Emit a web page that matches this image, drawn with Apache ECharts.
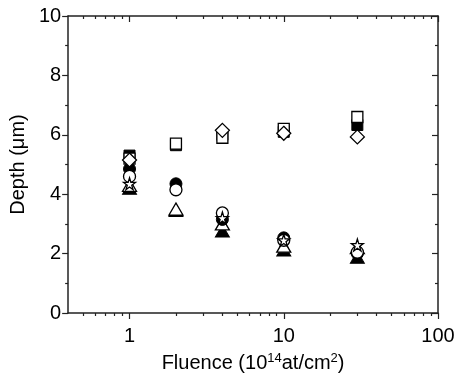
<!DOCTYPE html>
<html>
<head>
<meta charset="utf-8">
<script src="https://cdn.jsdelivr.net/npm/echarts@6/dist/echarts.min.js"></script>
<style>
  html, body { margin: 0; padding: 0; background: #fff; }
  #chart { width: 458px; height: 381px; }
</style>
</head>
<body>
<div id="chart"></div>
<script>
// fluence values (10^14 at/cm^2)
const fluence = [1, 2, 4, 10, 30];

// depth (um) per marker type, null = no point
const squareOpen   = [5.2, 5.7, 5.9, 6.2, 6.6];
const squareFilled = [5.3, 5.65, 6.0, 6.1, 6.33];
const diamondOpen  = [5.15, null, 6.15, 6.05, 5.93];
const circleFilled = [4.85, 4.35, 3.15, 2.53, 2.0];
const circleOpen   = [4.6, 4.15, 3.37, 2.45, 2.05];
const starOpen     = [4.35, null, 3.2, 2.45, 2.29];
const triOpen      = [4.3, 3.5, 3.0, 2.25, 2.2];
const triFilled    = [4.2, 3.45, 2.76, 2.12, 1.88];

const xMajor = [1, 10, 100];
const xMinor = [0.5, 0.6, 0.7, 0.8, 0.9, 2, 3, 4, 5, 6, 7, 8, 9, 20, 30, 40, 50, 60, 70, 80, 90];

const FONT = "'Liberation Sans', Arial, sans-serif";
const STAR = "path://M50,0 L61,35 L98,35 L68,57 L79,91 L50,70 L21,91 L32,57 L2,35 L39,35 Z";

const pairs = (ys) => fluence.map((x, i) => (ys[i] == null ? null : [x, ys[i]])).filter(Boolean);

const openStyle = { color: "#fff", borderColor: "#000", borderWidth: 1.3, opacity: 1 };
const fillStyle = { color: "#000", borderColor: "#000", borderWidth: 1, opacity: 1 };

const mk = (name, ys, symbol, size, filled) => ({
  type: "scatter",
  name,
  data: pairs(ys),
  symbol,
  symbolSize: size,
  itemStyle: filled ? fillStyle : openStyle,
  emphasis: { disabled: true },
  xAxisIndex: 0,
  yAxisIndex: 0,
});

const axisLine = { show: true, lineStyle: { color: "#222", width: 1.5 } };
const tickLine = { color: "#222", width: 1.2 };

const logAxis = (extra) => Object.assign({
  type: "log",
  logBase: 10,
  min: 0.4,
  max: 100,
  splitLine: { show: false },
  axisLine: axisLine,
}, extra);

const chart = echarts.init(document.getElementById("chart"), null, { renderer: "canvas" });

chart.setOption({
  animation: false,
  backgroundColor: "#fff",
  grid: { left: 67, right: 20, top: 16, bottom: 68 },
  xAxis: [
    logAxis({
      position: "bottom",
      axisTick: { show: true, inside: false, length: 6, lineStyle: tickLine, customValues: xMajor },
      axisLabel: { show: true, customValues: xMajor, color: "#000", fontSize: 20, fontFamily: FONT, margin: 13 },
      name: "{n|Fluence (10}{s|14}{n|at/cm}{s|2}{n|)}",
      nameLocation: "middle",
      nameGap: 39,
      nameTextStyle: {
        rich: {
          n: { fontSize: 20, fontFamily: FONT, color: "#000" },
          s: { fontSize: 13, fontFamily: FONT, color: "#000", padding: [0, 0, 9, 0] },
        },
      },
    }),
    logAxis({
      position: "bottom",
      axisLine: { show: false },
      axisTick: { show: true, inside: false, length: 3, lineStyle: tickLine, customValues: xMinor },
      axisLabel: { show: false },
    }),
    logAxis({
      position: "top",
      axisTick: { show: true, inside: true, length: 6, lineStyle: tickLine, customValues: xMajor },
      axisLabel: { show: false },
    }),
    logAxis({
      position: "top",
      axisLine: { show: false },
      axisTick: { show: true, inside: true, length: 3, lineStyle: tickLine, customValues: xMinor },
      axisLabel: { show: false },
    }),
  ],
  yAxis: [
    {
      type: "value",
      position: "left",
      min: 0,
      max: 10,
      interval: 2,
      splitLine: { show: false },
      axisLine: axisLine,
      axisTick: { show: true, inside: false, length: 6, lineStyle: tickLine },
      minorTick: { show: true, splitNumber: 2, length: 3, lineStyle: tickLine },
      axisLabel: { color: "#000", fontSize: 20, fontFamily: FONT, margin: 7 },
      name: "Depth (\u03bcm)",
      nameLocation: "middle",
      nameGap: 37,
      nameTextStyle: { fontSize: 20, fontFamily: FONT, color: "#000" },
    },
    {
      type: "value",
      position: "right",
      min: 0,
      max: 10,
      interval: 2,
      splitLine: { show: false },
      axisLine: axisLine,
      axisTick: { show: true, inside: true, length: 6, lineStyle: tickLine },
      minorTick: { show: true, splitNumber: 2, length: 3, lineStyle: tickLine },
      axisLabel: { show: false },
    },
  ],
  series: [
    mk("triFilled", triFilled, "triangle", [14, 12], true),
    mk("triOpen", triOpen, "triangle", [14, 12], false),
    mk("circleFilled", circleFilled, "circle", 12, true),
    mk("squareFilled", squareFilled, "rect", 11, true),
    mk("squareOpen", squareOpen, "rect", 11, false),
    mk("circleOpen", circleOpen, "circle", 12, false),
    mk("starOpen", starOpen, STAR, 12, false),
    mk("diamondOpen", diamondOpen, "diamond", [14, 14], false),
  ],
});
</script>
</body>
</html>
